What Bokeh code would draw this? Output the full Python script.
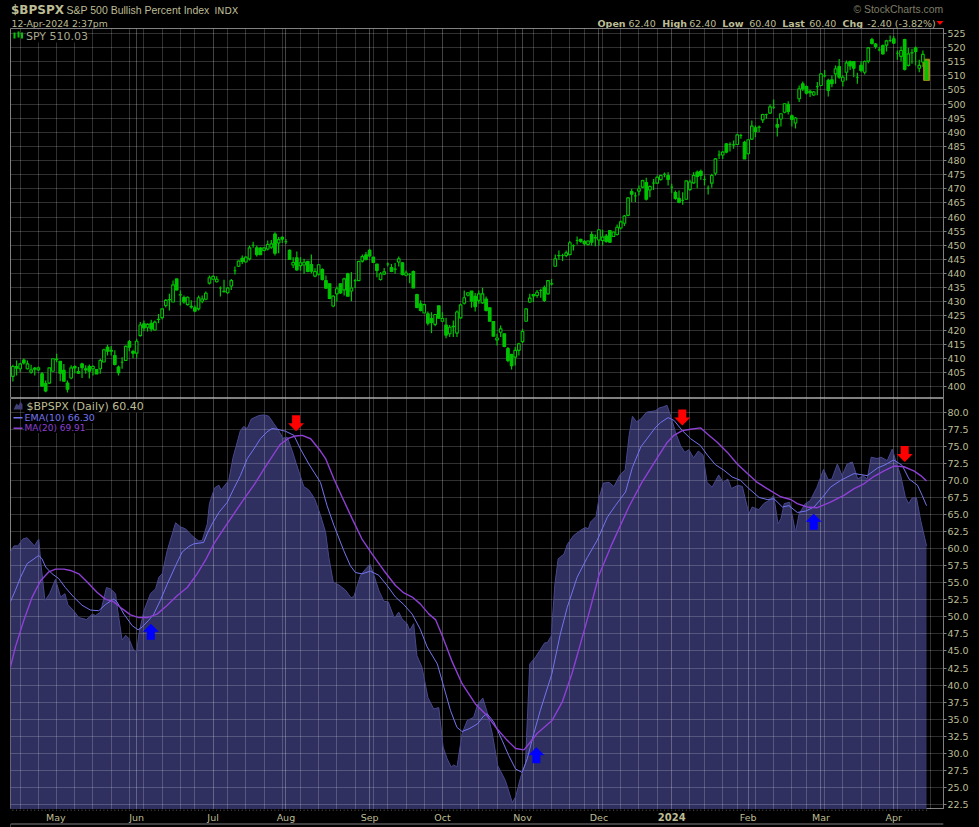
from bokeh.plotting import figure
from bokeh.layouts import column
from bokeh.models import (Range1d, FixedTicker, Grid, Label, BoxAnnotation,
                          PolyAnnotation, NumeralTickFormatter)
from bokeh.core.properties import value
from bokeh.embed import file_html
from bokeh.resources import INLINE

# SPY daily candles, one value per trading day (index 0 = mid-Apr 2023, 251 = 12-Apr-2024)
SPY_OPEN = [
403.6,407.1,406.3,409.4,406.3,405.1,406.5,405.9,404.5,401,
401.2,405.4,409.6,408.9,405.7,401.2,403,407.1,405.3,408,
406.3,407.1,406.3,406,406.3,408.7,413.9,412.8,411,406.9,
408.6,409.2,415.9,412.4,411.8,418,422.2,421,422.4,420,
423.8,424.4,428.7,430.7,429.9,438.1,432.5,431.5,429,428.4,
427.9,427.5,430.2,430.9,436.6,438,437.1,434.9,433.7,433.2,
435.6,441,442.6,445.4,444.1,445.2,450,449.1,449,448.2,
448.7,449.3,454,450.8,452.8,451.3,448.2,443,445.6,442.8,
443,444.3,443.2,439.1,439.8,441.4,437.5,436.4,428.5,432.8,
436.4,434.2,439.9,433.8,437.5,437.5,444.4,446.6,448.2,445.8,
443.4,437.9,439.8,443.4,442.1,441.6,444.1,443.8,439.4,439.7,
440.7,432.6,429.3,426,425.7,424.1,422,428.6,423.1,421.8,
418.7,421.3,418.9,424.3,429.5,432.3,433.8,431.9,430.5,429.6,
431,427.9,423,416.5,419.2,418.7,413.4,411.3,410.4,412.8,
415.9,423.1,429.9,432.6,432.2,434,435,432.8,436.4,442.6,
446.4,446.4,446.4,446.7,449.9,451.7,452.1,451.3,450.3,453.8,
452.7,451.9,451.7,453.3,455.2,453.1,453.8,456.1,457.8,460.6,
469,467.5,469.2,470.6,472.2,469.6,472,472,473.3,475.1,
474.7,470.6,468.7,466.6,465.9,466.3,469.8,472.1,475.9,476.2,
473.3,470.2,472,475.5,482,482,485.9,485.7,485.6,485.7,
488.9,486.5,482.4,487.6,491.6,491.9,494.4,496.3,496.8,498.9,
492.8,494.7,497.1,499.9,495.9,493.3,501.9,507.2,506.2,504.5,
503.2,506.2,506.6,510,508.4,508.6,510.7,513.3,508.1,511.3,
515.1,515.1,509.5,513.7,511.3,515.2,522.9,521.3,519.2,520.7,
520.9,522.5,523.1,518,516.9,522.9,513.7,518.2,519.9,512.7,
514.9,515.2]
SPY_CLOSE = [
407.1,406.5,408,408.3,408,405.9,406.1,406.6,400.1,398.4,
406.6,409.8,409.5,404.7,401.9,399,406.6,406.6,404.7,406.7,
405.9,405.4,407.1,404.4,409.2,413,412.5,412.5,407.8,404.9,
408.6,414.2,413.9,411.8,416,421.8,420.7,422,420.4,422.8,
423.7,427.5,430.5,430.8,436,434.2,432.4,429.9,431.6,428.2,
426.7,431.4,431,433,438.5,439,438,434.9,433.6,434.9,
437.5,441,444.4,444.3,445.8,449.1,450,446.7,446.7,449.1,
450.3,450.5,447.2,452,452.2,451.3,445,443.9,441.3,443.8,
444,440.7,440.8,440.7,443.1,437.9,434.8,431.2,432,434.6,
433.1,438.1,432,434.9,437.5,444.3,446,445,446.2,443.9,
441.1,439.9,440.6,443.4,440.7,441.5,445.2,439.7,440.2,439.7,
434.9,428,426.9,429,422.4,422.7,425.5,424.2,424.1,418.2,
421,421.2,426.4,428.9,431.4,433.2,430.2,428.3,432.8,432.8,
426.9,423.1,417.8,417.2,420.4,414.2,409.2,407.4,412.8,415.1,
419.5,427.5,431.3,432.1,433.4,434,430.5,437.5,436.3,445.2,
446.3,446.4,447.3,450.9,449.9,451.7,451.4,450.6,451.5,451.1,
452.6,455.5,452.9,451.4,451.1,454.7,456.4,458.3,460.4,466.8,
468.1,467.5,470,472.9,466.3,470.8,472,474.1,474.7,475.1,
473.3,470.6,466.6,465.2,465.9,472.8,472.4,474.7,474.4,474.7,
473.3,470.2,474.7,480.6,482,483,483,485.7,485.5,489.1,
488.9,480.6,487.4,492.2,490.3,491.8,496.3,496.3,499,498.9,
491.8,496.6,500.1,497.4,494.6,495.1,505.4,505.4,503.9,504,
504.3,506.2,510.7,510,504.8,507.2,512.5,509.5,509.5,514.6,
513.5,512.7,509.5,511.9,515.1,519.9,521.5,520.4,519.2,517.8,
522.4,522.5,521.6,518,519,512.3,517.8,518.1,518.6,513.7,
517.6,508.6]
SPY_HIGH = [
407.7,409.2,408.3,409.9,409.2,407.7,406.9,407.1,405.1,402.1,
406.6,409.8,411.6,408.9,408,402.1,407.5,407.5,406.9,408.4,
407.5,407.8,407.5,406,409.8,413.4,414.8,414.3,412.8,407.4,
410.4,414.5,416.5,413,416.9,422.8,423.4,422.4,423.6,423.4,
425.7,427.5,431,432.8,437.5,438.1,434,432.2,431.9,430.5,
428.7,432.2,432.2,433.6,439.3,439.3,439,435.4,437.8,435.2,
438.1,442.5,444.6,446.4,446,449.9,451.3,449.9,449.3,449.3,
451.7,451.9,454.6,452.9,453.2,452.2,448.5,445.8,447.8,445.8,
445.2,444.3,446.7,441.9,443.4,441.9,439.3,436.4,432.2,435.4,
436.4,438.5,440.3,440.5,438.1,444.3,446.7,447.6,448.8,445.8,
443.4,440.5,442,443.9,443.4,443.7,446,444,441.1,440.1,
441.1,432.8,430.5,429.3,426.6,426.3,425.7,428.6,426.3,424.3,
421.8,423.4,426.9,429.3,434,433.4,433.8,433.1,434,435,
431.9,427.9,423,418.7,421.6,418.7,414,411.6,414,415.5,
420.4,427.5,432.8,432.8,434.2,434.6,435.8,437.5,438.1,446.7,
448.2,447,448.2,451.5,450.3,453.1,452.3,451.9,451.7,454.9,
453.8,455.8,455.5,454,455.2,454.7,457.4,458.8,460.7,467,
470,468.8,471.2,473.2,473.9,471.2,473.5,474.7,475,475.8,
475.9,471.8,469.4,469.4,468.8,472.9,473.2,475.9,476.5,476.8,
474.7,471.2,475.3,480.9,483.6,483.3,486.2,486.5,487.1,489.5,
489.5,487,487.4,494.2,492.4,492.4,496.6,496.6,499.9,501.6,
495.1,496.6,500.3,501,496.3,495.4,506.6,508,506.6,505.1,
504.6,507.8,510.9,512.1,509,510.1,513.7,516,510.1,515.4,
515.4,515.1,511.1,515.1,515.4,520.2,523.5,521.6,520.2,521.1,
522.8,524.3,524.1,519,520.4,523.1,519.9,519.6,520.4,515.7,
519,515.9]
SPY_LOW = [
401.8,403.9,405.1,407.8,406,404.5,403.9,405.4,400.1,398,
401,405.4,408.6,401.9,401.9,397.9,402.6,404.7,404.5,403,
404.5,402.8,403.9,404.4,404.5,408.7,411,411,407.4,403.9,
406.3,409.2,412.5,410,410.2,417.7,419.6,419.5,419.5,419.8,
422.4,423.7,428,426.9,429.9,434,428.7,429.3,428.7,427.5,
426.3,426.9,429.5,430.5,436.1,437.8,436.8,431.9,433.3,432.8,
434.2,439.7,442.3,443.4,443.9,444.6,449.1,446,446.7,447.9,
448.2,448.8,446.4,447.2,450.8,450.5,444.9,442,441,441,
439.9,440.5,440.1,438.7,439.3,437.5,434.6,430.9,428.1,430.2,
432.8,432.2,432,430.2,434.9,437.5,443.9,444.6,445.8,443.9,
438.7,437.5,439.5,442.5,440.5,439.9,442.5,439.3,439,436.6,
434.9,427.7,426.6,426,421.6,418.9,421.3,424,422.8,417.1,
417.5,417.5,417.5,424,429,431.9,427.9,426.6,429.3,429.3,
426.6,423.1,417.8,414.5,417.5,413.9,408.6,406,407.4,411,
415.4,423.1,429.6,429.9,431.4,431.4,429.9,432.6,435.8,442.6,
444.9,444.4,445.8,446.7,448.2,450.3,450.9,449.9,449.9,449.9,
449.7,449.9,449.9,450.9,450.8,452.9,453.5,455.6,456.8,460.3,
465.3,465.3,467.6,470.3,465.9,467,469.6,471.8,472.9,474.1,
471.2,468.5,466.1,464.9,464.4,466.1,469.2,471.8,470.2,473.2,
471.2,468,470.4,474.7,480.6,480.6,482.6,483.2,484.2,485.5,
487.7,480.6,482.2,487.4,488.3,490.1,493.3,494.8,496.6,498.3,
488.5,492.1,496.8,496.3,492.1,491.4,500.7,504.6,503.4,502.5,
503,503.1,506.6,509.5,502.7,506,507.2,509,506.2,508.4,
512.1,509.5,507.2,511.3,510.5,514.5,521.1,519.6,518.7,517.6,
518.6,521.9,521.3,515.7,515.2,511.9,513.3,514.3,513.7,511.3,
513.1,508.4]

# $BPSPX read at the visible corners of its outline: trading-day index and percent
BP_DAY = [-0.7,0.3,1.4,2.7,3.9,5.9,7.1,7.8,8.8,10.1,11.7,13.1,14.3,15.1,16.7,18.1,20.2,21.8,22.7,24.1,
25.7,26.8,28.2,28.8,30,31,31.9,33,34,34.6,36,37.8,39.2,40.1,41,42.4,44.7,46,47.4,49.2,
51.1,52,53.4,54,55.4,56.6,57.2,59.3,60.5,62.5,63.4,64.4,65.5,67.6,69,70.3,71.7,73,74.2,75.4,
76.7,78.3,79.9,81.3,82.9,
84.5,85.9,86.8,88,89.5,91.4,92.9,93.7,95.5,96.9,98.1,99.2,100.5,101.9,103.1,104.8,106,106.9,108.3,109,
110.1,111,112.4,114,115.6,117,118.2,119.3,120.4,121.1,122,123.4,124.8,126.6,127.7,129.1,130.3,131.7,133.2,135.3,
137.2,138.1,139.5,140.8,142,143.6,146.1,146.8,147.9,148.9,149.8,151.4,152.3,154,156,157.3,158.1,158.7,160.2,161,
162.2,163.8,165.1,166.9,168.2,169.3,170.2,171.3,172.5,174.1,
176.5,177.5,178.8,179.7,180.8,182,183.4,184.6,185.7,187,188.3,189.6,190.7,192.1,193.9,195.1,196.4,197.4,199.2,200.4,
202.2,203.1,204.9,206.3,208.1,209,210.2,211,211.9,213.4,215,216,217.7,219,220.9,222.7,224,225,226.5,227.8,
229.2,230.6,232.1,233.5,234.7,235.8,237.4,238.5,240.2,241.6,242.5,243.9,245.2,246.1,247,248.2,249.4,251]
BP_VALUE = [59.5,60.4,60.4,61.4,61.6,60.4,61.4,57.3,52.4,53.4,55.5,52.9,53.4,51.8,50.9,49.9,49.6,50.4,50.2,50.7,
54.3,54.1,53.4,50.9,46.6,47.3,46.8,45.3,44.8,47.5,50.9,53.4,54.1,55.8,56.3,59.7,63.8,63.2,62.9,61.9,
61.1,61.2,63.6,66.6,68.9,69.3,68.6,70,73.4,77.3,77.9,77.6,79,79.5,79.6,79.4,78.3,77.3,76.2,76.3,
74.4,71.7,69.1,68.6,67.3,
64.9,62.4,58.7,55.1,54.7,53.9,52.8,53,56.1,57,57.7,56.1,53.9,52.3,52.2,49.8,50.7,49.7,49,48,
49,44.3,42.6,38.2,36.5,36.7,30.9,29.2,28,28.3,28,32.9,34.8,35.3,37.2,38.1,36,32.9,28.2,26,
22.8,23.6,26.5,28.5,43.1,44.1,46.2,46.2,47.2,54.8,58.5,59.2,60.6,61.9,62.7,63.1,62.9,63.9,64.7,67.3,
69.6,69.7,69.1,70.9,71.5,76.6,79.4,78.6,79,80,
80.2,80.6,80.8,81,79.3,77.1,75.1,74.1,74.5,73.3,74.3,73.7,69.7,69,70.8,69.7,70.2,68.8,69.3,69.1,
65.1,66.1,65.7,66.6,67.2,67.8,63.6,64.4,66.6,66.8,62.4,65.1,66.6,67,69,71.6,70.1,70.2,72.4,70.7,
72.4,72.7,70.2,70.7,70.2,73.4,73.2,73.4,72.9,74.6,72.9,70.7,67.5,66.6,67.4,67.5,64.1,60.4]

EMA_DAY = [-0.7,0.7,2.1,3.9,5.8,7.1,8,9,10.8,12.6,14.4,16.7,19,21.3,23.6,25.4,27.7,28.6,30.5,32.8,
34.4,35.5,37.3,38.7,40.5,42.4,44.7,46.5,48.3,49.7,52.4,53.4,54.7,56.6,58.9,60.7,62.5,64.4,66.2,68,
69.8,71.2,72.6,74.9,77.2,79,81.3,
84.5,86.3,88.2,90.9,92.7,94.1,95.9,98.2,100.5,102.8,105.1,107.4,109.7,111.9,113.8,116.6,118.4,120.2,122,123.4,
125.3,127.6,129.4,130.3,132.1,134.4,136.2,138.1,139.9,141.3,143.1,144.9,148.1,150.4,152.3,155,157.8,160.5,163.3,165.5,
168.3,170.2,172.5,
176.6,178,180,181.6,183.9,186.2,188.9,190.8,193,195.3,197.6,199.9,202.2,205,207.2,209.1,211.4,213.2,215.5,217.8,
220.1,222.4,224.6,227.4,231.1,234.7,237.5,239.3,242,244.3,246.2,248.5,249.8,251]
EMA_VALUE = [52.2,53.9,55.8,57.8,58.5,59,58.5,57.3,56.3,55.6,54.3,52.9,51.7,51,50.9,51.8,52.6,52.2,50.4,48.7,
48.1,48.5,49.5,50.4,52.4,54.8,57.5,59.5,60.3,60.7,60.9,62.2,63.6,65.3,66.8,68.8,70.7,73.2,74.6,76.1,
77.1,77.6,77.5,77.2,76.6,74.6,72.4,
69.7,66.3,63.4,59.7,57.5,56.5,56.3,56.7,56.1,54.6,52.9,51.8,50.4,48.2,45.6,43.1,39.7,36.3,33.8,33.2,
33.6,34.3,35.5,35.8,34.6,31.9,29.7,27.7,27.2,29.2,32.9,36.3,41.7,47.5,51.4,55.8,58.7,61.2,64.6,66.3,
68.3,71.9,74.9,
77.8,78.5,79.2,78.8,77.3,76.1,75.1,73.7,72.3,71.5,70.5,70,68.8,67.5,67.2,67.3,66.1,66.3,65.3,65.5,
66.1,67.5,69,70,71,70.7,71.8,72.2,73,72.2,70.2,69.3,67.8,66.3]

MA_DAY = [-0.7,0.7,3,5.3,7.6,9.9,11.7,14,15.8,18.1,20.4,23.1,25.4,27.7,30,32.3,34.6,36.9,39.6,42.4,
45.1,47.9,50.6,52.9,55.2,57.9,60.7,63.5,66.2,69,71.7,73.5,75.8,77.6,79.5,81.8,
84.5,85.9,88.2,90.5,93.2,95.9,98.7,101.9,105.1,107.4,109.7,111.9,114.3,116.1,117.9,120.7,123.4,127.1,130.3,133,
135.8,138.1,140.4,141.8,144,148.1,150.9,153.6,155.9,158.2,161,164.6,169.2,172.8,
177.5,179.8,181.6,183.9,186.2,188.9,190.8,193.5,196.3,199,201.8,204.5,207.2,210.9,213.7,215.5,218.2,221,224.6,228.3,
231.1,233.8,236.6,239.3,242,244.8,247.5,249.4,251]
MA_VALUE = [42.6,45.6,49.5,52.9,55.3,56.6,57,57,56.8,56.3,55.1,53.6,52.6,52.2,51.2,50.3,49.9,49.9,50.4,51.7,
53.1,54.3,56.3,58.3,60.7,62.9,65.1,67.3,69.3,71.7,73.9,75.3,76.2,76.5,76.6,76.1,
74.3,73.2,70.2,67.5,64.4,61.4,59.2,56.8,54.6,53.5,52.9,51.9,50.4,49.6,47.3,43.4,40.2,37.2,35.5,33.6,
31.9,30.7,30.5,31.4,32.9,34.8,37.5,41.7,46,50.4,56.1,60.7,66.1,69.7,
73.7,75.6,76.6,77.3,77.5,77.7,76.8,75.6,74.1,72.4,71,69.7,68.8,67.6,67.2,66.6,66.1,66,66.8,67.8,
68.8,69.5,70.6,71.4,72.1,72,71.4,70.7,69.9]

# Signal arrows: trading-day index and the value at the arrow's tip
SELL_DAY = [77.8, 183.9, 245.0]
SELL_VALUE = [77.2, 78.05, 72.7]
BUY_DAY = [37.9, 143.8, 220.0]
BUY_VALUE = [49.0, 30.9, 65.1]

MONTH_TICKS = [34, 55, 75, 98, 118, 140, 161, 181, 202, 222, 242]
WEEK_TICKS = [2,7,12,17,22,27,32,36,41,46,50,59,64,69,74,79,84,89,94,99,103,108,113,123,128,133,138,143,
              148,153,157,162,167,172,177,186,190,195,199,204,209,214,218,223,228,233,238,243,248,252]
MONTH_LABEL_TICKS = [11.8, 34, 55, 75, 98, 118, 140, 161, 202, 222, 242]
MONTH_LABELS = ["May","Jun","Jul","Aug","Sep","Oct","Nov","Dec","Feb","Mar","Apr"]
YEAR_TICK = 181
YEAR_LABEL = "2024"
SPY_TICKS = list(range(400, 530, 5))
BP_TICKS = [22.5 + 2.5*k for k in range(24)]

TAN = "#bdbd95"
GRN = "#00c400"
FONT = "DejaVu Sans"
X_RANGE = (-0.66, 255.66)
FRAME_L, FRAME_R = 10, 943

def base(height, y_range, **kw):
    p = figure(width=979, height=height, x_range=Range1d(*X_RANGE), y_range=Range1d(*y_range),
               y_axis_location="right", x_axis_type=None, output_backend="svg", toolbar_location=None,
               background_fill_color="#000000", border_fill_color="#000000",
               outline_line_color="#808080", outline_line_alpha=1, outline_line_width=1,
               min_border_left=FRAME_L, min_border_right=979-FRAME_R, min_border_top=0, min_border_bottom=0, **kw)
    p.ygrid.grid_line_color = "#ffffff"
    p.ygrid.grid_line_alpha = 0.19
    p.yaxis.axis_line_color = "#808080"
    p.yaxis.major_tick_line_color = "#808080"
    p.yaxis.major_tick_out = 3
    p.yaxis.major_tick_in = 0
    p.yaxis.minor_tick_line_color = None
    p.yaxis.major_label_text_color = TAN
    p.yaxis.major_label_text_font = FONT
    p.yaxis.major_label_text_font_size = "9.5px"
    p.yaxis.major_label_standoff = 1
    return p

def vgrids(p):
    p.add_layout(Grid(dimension=0, ticker=FixedTicker(ticks=WEEK_TICKS), grid_line_color="#ffffff", grid_line_alpha=0.19))
    p.add_layout(Grid(dimension=0, ticker=FixedTicker(ticks=MONTH_TICKS), grid_line_color="#ffffff", grid_line_alpha=0.26))

def strip(height, y_range):
    return figure(width=979, height=height, x_range=Range1d(*X_RANGE), y_range=Range1d(*y_range),
                  x_axis_type=None, y_axis_type=None, output_backend="svg", toolbar_location=None,
                  background_fill_color="#000000", border_fill_color="#000000", outline_line_color=None,
                  min_border_left=FRAME_L, min_border_right=979-FRAME_R, min_border_top=0, min_border_bottom=0)

# ---------- header strip ----------
head = strip(28, (0, 28))

# ---------- top panel ----------
p1 = base(370, (395.75, 526.77))
p1.yaxis.ticker = FixedTicker(ticks=SPY_TICKS)
p1.ygrid.ticker = FixedTicker(ticks=SPY_TICKS)
vgrids(p1)

days = list(range(len(SPY_CLOSE)))
assert len(SPY_OPEN) == len(SPY_CLOSE) == len(SPY_HIGH) == len(SPY_LOW) == 252
p1.segment(days, SPY_LOW, days, SPY_HIGH, line_color=GRN, line_width=1.2)
p1.vbar(x=[days[-1]], top=[SPY_HIGH[-1]], bottom=[SPY_LOW[-1]], width=1.6, fill_color="#a88a14", line_color="#a88a14")
up = [i for i in days if SPY_CLOSE[i] >= SPY_OPEN[i]]
dn = [i for i in days if SPY_CLOSE[i] < SPY_OPEN[i]]
p1.vbar(x=up, bottom=[SPY_OPEN[i] for i in up], top=[SPY_CLOSE[i] for i in up], width=0.72,
        fill_color="#000000", line_color=GRN, line_width=1.1)
p1.vbar(x=dn, bottom=[SPY_CLOSE[i] for i in dn], top=[SPY_OPEN[i] for i in dn], width=0.72,
        fill_color=GRN, line_color=GRN, line_width=1.1)

def lab(p, frame_bottom, px, py, text, color=TAN, size="10px", font=FONT, bold=False, bg=None, align="left"):
    kw = {}
    if bg:
        kw = dict(background_fill_color=bg, background_fill_alpha=1)
    p.add_layout(Label(x=px-FRAME_L, y=frame_bottom-py, x_units="screen", y_units="screen", text=text,
                       text_color=color, text_font=font, text_font_size=size,
                       text_font_style="bold" if bold else "normal",
                       text_baseline="middle", text_align=align, **kw))

def t0(*a, **k): lab(head, 28, *a, **k)
def t1(*a, **k): lab(p1, 398, *a, **k)
def t2(*a, **k): lab(p2, 809, *a, **k)

t0(10.5, 9.5, "$BPSPX", size="12px", bold=True)
t0(66, 9.5, "S&P 500 Bullish Percent Index", size="10.5px", font="Liberation Sans")
t0(214, 9.5, "INDX", size="9.5px")
t0(11, 22.5, "12-Apr-2024 2:37pm", size="9.3px")
for x, s, b in [(597,"Open",True),(628,"62.40",False),(661.7,"High",True),(688.7,"62.40",False),
                (721.7,"Low",True),(748.7,"60.40",False),(781.7,"Last",True),(808.7,"60.40",False),
                (842,"Chg",True),(866.7,"-2.40 (-3.82%)",False)]:
    t0(x, 22.5, s, bold=b, size="9.5px")
t0(853, 9, "\u00a9 StockCharts.com", color="#7e7e66", size="10.4px", font="Liberation Sans")
head.add_layout(PolyAnnotation(xs=[936-FRAME_L, 943-FRAME_L, 939.5-FRAME_L], ys=[28-20.5, 28-20.5, 28-24.5],
                               xs_units="screen", ys_units="screen", fill_color="#ff0000", fill_alpha=1, line_color=None))
t1(25.5, 35.5, "SPY 510.03", color="#a8a890", size="11px", bg="#000000")
for l, r, tt, bb in [(13,15,32,38),(17,19,31,37),(20.5,22.5,32,38)]:
    p1.add_layout(BoxAnnotation(left=l-FRAME_L, right=r-FRAME_L, top=398-tt, bottom=398-bb,
                                left_units="screen", right_units="screen", top_units="screen", bottom_units="screen",
                                fill_color=GRN, fill_alpha=1, line_color=None))

# ---------- bottom panel ----------
p2 = base(411, (21.77, 82.0))
p2.yaxis.ticker = FixedTicker(ticks=BP_TICKS)
p2.ygrid.ticker = FixedTicker(ticks=BP_TICKS)
p2.yaxis.formatter = NumeralTickFormatter(format="0.0")
vgrids(p2)

p2.varea(x=BP_DAY, y1=BP_VALUE, y2=[0]*len(BP_DAY), fill_color="#2f2f60", level="image")
p2.line(BP_DAY, BP_VALUE, line_color="#47478c", line_width=1)
p2.line(EMA_DAY, EMA_VALUE, line_color="#7474ee", line_width=1)
p2.line(MA_DAY, MA_VALUE, line_color="#8e40d4", line_width=1.4)

# arrows: head + stem sized in pixels around each tip
PX_X = (X_RANGE[1]-X_RANGE[0])/(FRAME_R-FRAME_L)
PX_Y = (82.0-21.77)/411
def arrow(x, y, sgn):
    xs = [x + d*PX_X for d in (0, 8, 4, 4, -4, -4, -8)]
    ys = [y + sgn*d*PX_Y for d in (0, 8, 8, 16, 16, 8, 8)]
    return xs, ys
a = [arrow(x, y, 1) for x, y in zip(SELL_DAY, SELL_VALUE)]
p2.patches([q[0] for q in a], [q[1] for q in a], fill_color="#ff0000", line_color=None)
a = [arrow(x, y, -1) for x, y in zip(BUY_DAY, BUY_VALUE)]
p2.patches([q[0] for q in a], [q[1] for q in a], fill_color="#0000ff", line_color=None)

t2(26, 405.5, "$BPSPX (Daily) 60.40", color=TAN, size="11px", bg="#000000")
t2(24, 417, "EMA(10) 66.30", color="#7474ee", size="9.5px", bg="#000000")
t2(24, 427.5, "MA(20) 69.91", color="#8e40d4", size="9px", bg="#000000")
p2.add_layout(PolyAnnotation(xs=[x-FRAME_L for x in (13,16,18,20,22,22,13)],
                             ys=[809-y for y in (409,403,405,401,404,409,409)],
                             xs_units="screen", ys_units="screen", fill_color="#3f3f75", fill_alpha=1, line_color=None))
for top, col in [(416.5, "#7474ee"), (427, "#8e40d4")]:
    p2.add_layout(BoxAnnotation(left=13-FRAME_L, right=22-FRAME_L, top=809-top, bottom=809-top-1.5,
                                left_units="screen", right_units="screen", top_units="screen", bottom_units="screen",
                                fill_color=col, fill_alpha=1, line_color=None))

# ---------- date strip below the panels (y counts pixels upward from the page's foot) ----------
foot = strip(18, (0, 18))
foot.segment(days, [18]*len(days), days, [17]*len(days), line_color="#808080", line_width=1)
foot.text(MONTH_LABEL_TICKS, [10.5]*len(MONTH_LABELS), text=MONTH_LABELS, text_color=TAN,
          text_font=value(FONT), text_font_size="9.5px", text_align="center", text_baseline="middle")
foot.text([YEAR_TICK], [10.5], text=[YEAR_LABEL], text_color=TAN, text_font=value(FONT), text_font_style="bold",
          text_font_size="10px", text_align="center", text_baseline="middle")
foot.segment([X_RANGE[0]], [3.5], [X_RANGE[1]], [3.5], line_color="#808080", line_width=1)
foot.segment([X_RANGE[0]], [0], [X_RANGE[0]], [3.5], line_color="#808080", line_width=1)

layout = column(head, p1, p2, foot, spacing=0)
html = file_html(layout, INLINE)
html = html.replace("<head>", "<head><style>html,body{margin:0;padding:0;background:#000;overflow:hidden}</style>", 1)
open("out.html", "w").write(html)
